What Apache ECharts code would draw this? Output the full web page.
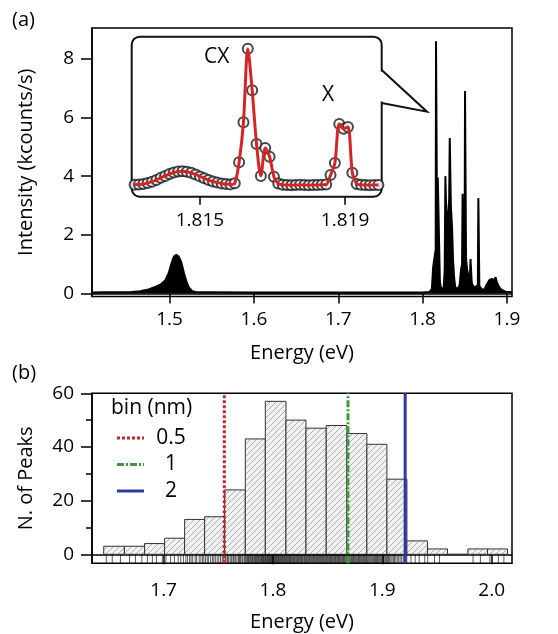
<!DOCTYPE html>
<html>
<head>
<meta charset="utf-8">
<script src="https://cdn.jsdelivr.net/npm/echarts@6/dist/echarts.min.js"></script>
<style>
html, body { margin: 0; padding: 0; background: #fff; }
#main { width: 558px; height: 634px; }
</style>
</head>
<body>
<div id="main"></div>
<script>
// (a) PL spectrum, energy in eV, intensity in kcounts/s
var specEnergy = [1.408, 1.42, 1.44, 1.455, 1.465, 1.475, 1.483, 1.490, 1.495, 1.499,
    1.502, 1.505, 1.508, 1.511, 1.514, 1.517, 1.520, 1.523, 1.527, 1.532,
    1.55, 1.60, 1.65, 1.70, 1.75, 1.80, 1.808, 1.811, 1.8125, 1.8145,
    1.8155, 1.8159, 1.8165, 1.8170, 1.8180, 1.8197, 1.8205, 1.822, 1.825, 1.8262,
    1.8270, 1.8278, 1.8285, 1.8295, 1.8305, 1.8315, 1.8322, 1.8328, 1.8335, 1.8342,
    1.8350, 1.8360, 1.8372, 1.8385, 1.840, 1.8425, 1.8440, 1.8455, 1.8468, 1.8474,
    1.8480, 1.8488, 1.8498, 1.8503, 1.8509, 1.8515, 1.8528, 1.8545, 1.8560, 1.8568,
    1.8575, 1.8583, 1.8600, 1.8615, 1.8625, 1.8640, 1.8655, 1.8661, 1.8667, 1.8673,
    1.870, 1.873, 1.876, 1.879, 1.882, 1.8845, 1.8865, 1.8875, 1.8885, 1.891,
    1.894, 1.898, 1.906];
var specIntensity = [0.03, 0.04, 0.04, 0.05, 0.08, 0.14, 0.22, 0.32, 0.45, 0.7,
    1.0, 1.25, 1.32, 1.25, 1.05, 0.7, 0.4, 0.2, 0.08, 0.04,
    0.04, 0.03, 0.03, 0.03, 0.03, 0.03, 0.05, 0.15, 0.9, 0.95,
    1.5, 8.6, 8.6, 3.0, 3.95, 3.9, 0.4, 0.15, 0.2, 0.8,
    4.0, 4.0, 2.2, 2.5, 2.8, 3.2, 5.3, 5.3, 3.0, 2.95,
    2.2, 1.2, 0.6, 0.25, 0.15, 0.2, 0.3, 0.8, 1.0, 3.4,
    3.4, 1.3, 1.5, 6.9, 6.9, 1.2, 0.8, 0.6, 0.45, 1.17,
    1.17, 0.35, 0.25, 0.3, 0.2, 0.25, 0.3, 3.25, 3.25, 0.25,
    0.15, 0.12, 0.3, 0.45, 0.5, 0.45, 0.55, 0.6, 0.35, 0.2,
    0.12, 0.06, 0.04];
var specTicks = [1.5, 1.6, 1.7, 1.8, 1.9];
var intensityTicks = [0, 2, 4, 6, 8];

// inset: zoom on one emitter (arb. units)
var insetEnergy = [1.81320, 1.81332, 1.81344, 1.81356, 1.81368, 1.81380, 1.81392, 1.81404, 1.81416, 1.81428,
    1.81440, 1.81452, 1.81464, 1.81476, 1.81488, 1.81500, 1.81512, 1.81524, 1.81536, 1.81548,
    1.81560, 1.81572, 1.81584, 1.81596, 1.81608, 1.81620, 1.81632, 1.81644, 1.81656, 1.81668,
    1.81680, 1.81692, 1.81704, 1.81716, 1.81728, 1.81740, 1.81752, 1.81764, 1.81776, 1.81788,
    1.81800, 1.81812, 1.81824, 1.81836, 1.81848, 1.81860, 1.81872, 1.81884, 1.81896, 1.81908,
    1.81920, 1.81932, 1.81944, 1.81956, 1.81968, 1.81980, 1.81992];
var insetCounts = [7.5, 7.6, 7.9, 8.5, 9.4, 10.5, 11.8, 13.0, 14.2, 15.1,
    15.7, 15.9, 15.6, 14.9, 13.9, 12.7, 11.5, 10.4, 9.5, 8.8,
    8.3, 7.9, 7.7, 8.4, 21.5, 46.5, 92.5, 66.5, 33.0, 13.0,
    30.5, 25.0, 12.5, 8.2, 7.4, 7.3, 7.2, 7.3, 7.4, 7.3,
    7.2, 7.3, 7.3, 7.4, 7.6, 13.5, 21.0, 45.5, 42.5, 43.5,
    15.0, 8.0, 7.4, 7.3, 7.2, 7.3, 7.3];
var insetTicks = [1.815, 1.819];

// (b) histogram of peak energies
var binEdges = [1.6452, 1.6641, 1.6826, 1.7009, 1.7192, 1.7375, 1.7558, 1.7747, 1.7930, 1.8119, 1.8302,
    1.8487, 1.8676, 1.8859, 1.9042, 1.9225, 1.9413, 1.9596, 1.9782, 1.9962, 2.0145];
var binCounts = [3, 3, 4, 6, 13, 14, 24, 43, 57, 50, 47, 48, 45, 41, 28, 5, 2, 0, 2, 2];
var peakEnergies = [1.6475, 1.6530, 1.6605, 1.6689, 1.6742, 1.6801, 1.6851, 1.6897, 1.6934, 1.6988,
    1.7021, 1.7064, 1.7098, 1.7133, 1.7157, 1.7181, 1.7203, 1.7219, 1.7238, 1.7251,
    1.7266, 1.7289, 1.7302, 1.7325, 1.7341, 1.7357, 1.7368, 1.7384, 1.7399, 1.7412,
    1.7430, 1.7446, 1.7459, 1.7473, 1.7490, 1.7505, 1.7521, 1.7536, 1.7549, 1.7563,
    1.7571, 1.7584, 1.7592, 1.7607, 1.7618, 1.7626, 1.7639, 1.7651, 1.7660, 1.7672,
    1.7685, 1.7694, 1.7703, 1.7716, 1.7724, 1.7737, 1.7745, 1.7752, 1.7761, 1.7768,
    1.7776, 1.7783, 1.7791, 1.7797, 1.7806, 1.7812, 1.7819, 1.7827, 1.7834, 1.7840,
    1.7848, 1.7855, 1.7861, 1.7869, 1.7874, 1.7882, 1.7889, 1.7895, 1.7902, 1.7908,
    1.7914, 1.7920, 1.7927, 1.7932, 1.7939, 1.7945, 1.7951, 1.7958, 1.7963, 1.7969,
    1.7976, 1.7981, 1.7987, 1.7994, 1.8000, 1.8006, 1.8012, 1.8019, 1.8024, 1.8031,
    1.8037, 1.8043, 1.8050, 1.8055, 1.8062, 1.8068, 1.8075, 1.8081, 1.8088, 1.8094,
    1.8101, 1.8107, 1.8114, 1.8121, 1.8127, 1.8134, 1.8141, 1.8148, 1.8153, 1.8161,
    1.8168, 1.8175, 1.8182, 1.8189, 1.8196, 1.8203, 1.8211, 1.8218, 1.8224, 1.8232,
    1.8239, 1.8246, 1.8253, 1.8261, 1.8268, 1.8275, 1.8283, 1.8290, 1.8297, 1.8305,
    1.8312, 1.8319, 1.8327, 1.8334, 1.8341, 1.8349, 1.8356, 1.8364, 1.8371, 1.8378,
    1.8386, 1.8393, 1.8400, 1.8408, 1.8415, 1.8423, 1.8430, 1.8437, 1.8445, 1.8452,
    1.8460, 1.8467, 1.8474, 1.8482, 1.8489, 1.8497, 1.8504, 1.8511, 1.8519, 1.8526,
    1.8534, 1.8541, 1.8548, 1.8556, 1.8563, 1.8571, 1.8578, 1.8586, 1.8593, 1.8600,
    1.8608, 1.8615, 1.8623, 1.8630, 1.8638, 1.8645, 1.8653, 1.8660, 1.8668, 1.8676,
    1.8683, 1.8691, 1.8698, 1.8706, 1.8714, 1.8721, 1.8729, 1.8737, 1.8744, 1.8752,
    1.8760, 1.8768, 1.8776, 1.8783, 1.8791, 1.8799, 1.8807, 1.8815, 1.8823, 1.8830,
    1.8838, 1.8846, 1.8855, 1.8863, 1.8871, 1.8879, 1.8888, 1.8896, 1.8904, 1.8913,
    1.8921, 1.8930, 1.8938, 1.8947, 1.8956, 1.8964, 1.8973, 1.8982, 1.8991, 1.9000,
    1.9009, 1.9018, 1.9028, 1.9037, 1.9047, 1.9057, 1.9067, 1.9078, 1.9089, 1.9101,
    1.9112, 1.9124, 1.9137, 1.9150, 1.9163, 1.9177, 1.9192, 1.9208, 1.9224,
    1.9262, 1.9301, 1.9337, 1.9388, 1.9415, 1.9478, 1.9523, 1.9830, 1.9897, 1.9984, 2.0061, 2.0112];
var binNames = ['0.5', '1', '2'];
var binLines = [1.7555, 1.8686, 1.9209];
var histXTicks = [1.7, 1.8, 1.9, 2.0];
var histYTicks = [0, 20, 40, 60];
var histYMinor = [10, 30, 50];

var FONT = 'Open Sans';
var HIST_YMIN = -3.35, HIST_YMAX = 60;

function hatchPattern() {
    var c = document.createElement('canvas');
    c.width = 6;
    c.height = 6;
    var ctx = c.getContext('2d');
    ctx.fillStyle = '#f3f3f3';
    ctx.fillRect(0, 0, 6, 6);
    ctx.strokeStyle = '#a6a6a6';
    ctx.lineWidth = 0.9;
    ctx.beginPath();
    ctx.moveTo(0, 6); ctx.lineTo(6, 0);
    ctx.moveTo(-1, 1); ctx.lineTo(1, -1);
    ctx.moveTo(5, 7); ctx.lineTo(7, 5);
    ctx.stroke();
    return c;
}

var hatch = { image: hatchPattern(), repeat: 'repeat' };

var specData = specEnergy.map(function (e, i) { return [e, specIntensity[i]]; });
var insetData = insetEnergy.map(function (e, i) { return [e, insetCounts[i]]; });
var histData = binCounts.map(function (c, i) { return [binEdges[i], binEdges[i + 1], c]; });
var rugData = peakEnergies.map(function (e) { return [e, 0]; });
var lineColors = ['#c4262b', '#3b9a3b', '#2c3a9e'];
var lineDash = [[3, 2], [7, 2, 2, 2], null];

var labelStyle = { color: '#000', fontFamily: FONT, fontSize: 19 };
var nameStyle = { color: '#000', fontFamily: FONT, fontSize: 20 };
var axisLine = { show: true, lineStyle: { color: '#000', width: 1.5 } };

// legend drawn by hand: dashed sample + label
var legendItems = [];
binNames.forEach(function (name, i) {
    var y = 438 + i * 26.5;
    legendItems.push({
        type: 'line', z: 10,
        shape: { x1: 117, y1: y, x2: 144, y2: y },
        style: { stroke: lineColors[i], lineWidth: 3, lineDash: lineDash[i] }
    });
    legendItems.push({
        type: 'text', z: 10, x: 171, y: y,
        style: { text: name, fontSize: 21, fontFamily: FONT, fill: '#000', align: 'center', verticalAlign: 'middle' }
    });
});

var chart = echarts.init(document.getElementById('main'));
var option = {
    animation: false,
    grid: [
        { left: 92, right: 46, top: 28, bottom: 337.6, show: true, borderColor: '#000', borderWidth: 1.5 },
        { left: 92, right: 46, top: 393.3, bottom: 70.7, show: true, borderColor: '#000', borderWidth: 1.5 },
        { left: 131.7, top: 36.7, width: 250, height: 160 }
    ],
    xAxis: [{
        gridIndex: 0, type: 'value', min: 1.408, max: 1.906,
        axisLine: axisLine,
        axisTick: { customValues: specTicks, length: 10, lineStyle: { width: 1.5 } },
        axisLabel: Object.assign({ customValues: specTicks, margin: 14 }, labelStyle),
        splitLine: { show: false },
        name: 'Energy (eV)', nameLocation: 'middle', nameGap: 47, nameTextStyle: nameStyle
    }, {
        gridIndex: 1, type: 'value', min: 1.6345, max: 2.0186,
        axisLine: axisLine,
        axisTick: { customValues: histXTicks, length: 10, lineStyle: { width: 1.5 } },
        axisLabel: Object.assign({
            customValues: histXTicks, margin: 18,
            formatter: function (v) { return v.toFixed(1); }
        }, labelStyle),
        splitLine: { show: false },
        name: 'Energy (eV)', nameLocation: 'middle', nameGap: 49, nameTextStyle: nameStyle
    }, {
        gridIndex: 2, type: 'value', min: 1.81312, max: 1.82001,
        axisLine: { show: false },
        axisTick: { customValues: insetTicks, length: 8, lineStyle: { color: '#000', width: 1.5 } },
        axisLabel: Object.assign({
            customValues: insetTicks, margin: 14,
            formatter: function (v) { return v.toFixed(3); }
        }, labelStyle),
        splitLine: { show: false }
    }],
    yAxis: [{
        gridIndex: 0, type: 'value', min: -0.1, max: 9.05,
        axisLine: axisLine,
        axisTick: { customValues: intensityTicks, length: 11, lineStyle: { width: 1.5 } },
        axisLabel: Object.assign({ customValues: intensityTicks, margin: 18 }, labelStyle),
        splitLine: { show: false },
        name: 'Intensity (kcounts/s)', nameLocation: 'middle', nameGap: 56, nameTextStyle: nameStyle
    }, {
        gridIndex: 1, type: 'value', min: HIST_YMIN, max: HIST_YMAX, position: 'left',
        axisLine: axisLine,
        axisTick: { customValues: histYTicks, length: 11, lineStyle: { width: 1.5 } },
        axisLabel: Object.assign({ customValues: histYTicks, margin: 18 }, labelStyle),
        splitLine: { show: false },
        name: 'N. of Peaks', nameLocation: 'middle', nameGap: 56, nameTextStyle: nameStyle
    }, {
        gridIndex: 2, type: 'value', min: 0, max: 100, show: false
    }, {
        gridIndex: 1, type: 'value', min: HIST_YMIN, max: HIST_YMAX, position: 'left',
        axisLine: { show: false },
        axisTick: { customValues: histYMinor, length: 6, lineStyle: { color: '#000', width: 1.5 } },
        axisLabel: { show: false },
        splitLine: { show: false }
    }],
    graphic: [
        // inset frame with speech-bubble pointer
        {
            type: 'rect', z: 1,
            shape: { x: 131.7, y: 36.7, width: 250, height: 160, r: 8 },
            style: { fill: '#fff', stroke: '#111', lineWidth: 2 }
        },
        {
            type: 'polygon', z: 1,
            shape: { points: [[379, 71.5], [383, 71.5], [426, 111], [383, 101.5], [379, 101.5]] },
            style: { fill: '#fff', stroke: null }
        },
        {
            type: 'polyline', z: 1,
            shape: { points: [[381.7, 70], [427, 111.7], [381.7, 103]] },
            style: { fill: null, stroke: '#111', lineWidth: 2 }
        },
        { type: 'text', left: 12, top: 10, style: { text: '(a)', fontSize: 20, fontFamily: FONT, fill: '#000' } },
        { type: 'text', left: 12, top: 363, style: { text: '(b)', fontSize: 20, fontFamily: FONT, fill: '#000' } },
        { type: 'text', left: 204, top: 47, z: 5, style: { text: 'CX', fontSize: 21, fontFamily: FONT, fill: '#000' } },
        { type: 'text', left: 322, top: 85, z: 5, style: { text: 'X', fontSize: 21, fontFamily: FONT, fill: '#000' } },
        { type: 'text', left: 111, top: 398, z: 5, style: { text: 'bin (nm)', fontSize: 21, fontFamily: FONT, fill: '#000' } }
    ].concat(legendItems),
    series: [{
        type: 'line', xAxisIndex: 0, yAxisIndex: 0,
        data: specData, showSymbol: false, symbol: 'none',
        lineStyle: { color: '#000', width: 2 },
        areaStyle: { color: '#000', opacity: 1 }
    }, {
        type: 'scatter', xAxisIndex: 2, yAxisIndex: 2, z: 3,
        data: insetData, symbol: 'emptyCircle', symbolSize: 10,
        itemStyle: { color: '#1a1a1a', borderColor: '#1a1a1a', borderWidth: 1 }
    }, {
        type: 'line', xAxisIndex: 2, yAxisIndex: 2, z: 4,
        data: insetData, showSymbol: false, symbol: 'none', smooth: 0.3,
        lineStyle: { color: '#d42424', width: 3 }
    }, {
        type: 'custom', xAxisIndex: 1, yAxisIndex: 1, z: 2,
        data: histData,
        encode: { x: [0, 1], y: 2 },
        renderItem: function (params, api) {
            var p0 = api.coord([api.value(0), api.value(2)]);
            var p1 = api.coord([api.value(1), 0]);
            return {
                type: 'rect',
                shape: { x: p0[0], y: p0[1], width: p1[0] - p0[0], height: p1[1] - p0[1] },
                style: { fill: hatch, stroke: '#333', lineWidth: 1 }
            };
        }
    }, {
        type: 'custom', xAxisIndex: 1, yAxisIndex: 1, z: 3,
        data: rugData,
        encode: { x: 0, y: 1 },
        renderItem: function (params, api) {
            var top = api.coord([api.value(0), 0]);
            var bottom = api.coord([api.value(0), HIST_YMIN]);
            return {
                type: 'line',
                shape: { x1: top[0], y1: top[1], x2: bottom[0], y2: bottom[1] },
                style: { stroke: 'rgba(0,0,0,0.65)', lineWidth: 1 }
            };
        }
    }].concat(binLines.map(function (x, i) {
        return {
            type: 'line', name: binNames[i], xAxisIndex: 1, yAxisIndex: 1, z: 6,
            data: [[x, HIST_YMIN], [x, HIST_YMAX]],
            symbol: 'none', showSymbol: false,
            lineStyle: { color: lineColors[i], width: 3, type: lineDash[i] || 'solid' }
        };
    }))
};
chart.setOption(option);
window.onresize = chart.resize;
</script>
</body>
</html>
